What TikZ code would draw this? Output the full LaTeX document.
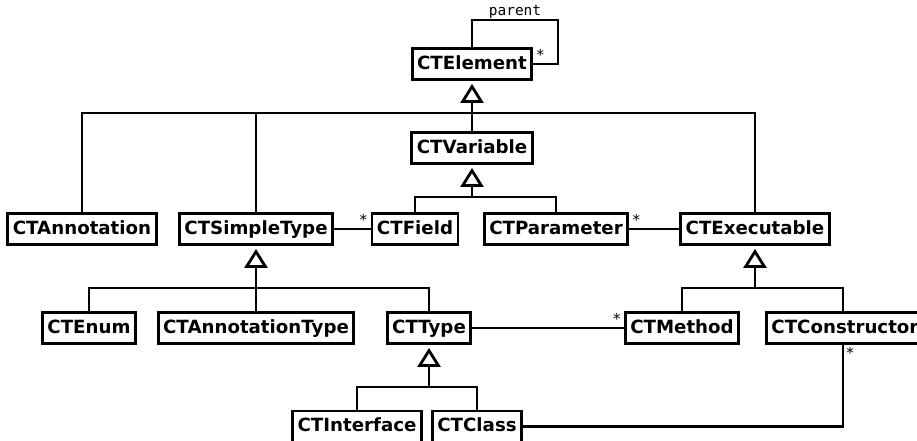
\documentclass[tikz,border=0pt]{standalone}
\usepackage{fontspec}
\setsansfont{DejaVu Sans}
\setmonofont{DejaVu Sans Mono}
\usetikzlibrary{arrows.meta}

\tikzset{
  cls/.style={draw, line width=2.8pt, fill=white, inner xsep=5pt, inner ysep=0pt,
    minimum height=31pt, text height=13.6pt, text depth=3.6pt,
    font=\sffamily\bfseries\fontsize{18.2}{20}\selectfont},
  mult/.style={font=\sffamily\fontsize{15}{15}\selectfont, inner sep=2pt},
  gen/.style={-{Triangle[open, width=23pt, length=19pt]}, shorten >=3pt}
}

\begin{document}
\begin{tikzpicture}[x=1pt, y=-1pt, line width=2.8pt]

    % Frame
    \useasboundingbox (0,0) rectangle (917,440);
    \clip (0,0) rectangle (917,440);

    % Classes
    \node[cls] (element) at (472,64) {CTElement};
    \node[cls] (variable) at (472,148) {CTVariable};

    \node[cls] (annotation) at (82,229) {CTAnnotation};
    \node[cls] (simpletype) at (256,229) {CTSimpleType};
    \node[cls] (field) at (415,229) {CTField};
    \node[cls] (parameter) at (556,229) {CTParameter};
    \node[cls] (executable) at (755,229) {CTExecutable};

    \node[cls] (enum) at (89,328) {CTEnum};
    \node[cls] (annotationtype) at (256,328) {CTAnnotationType};
    \node[cls] (type) at (429,328) {CTType};
    \node[cls] (method) at (682,328) {CTMethod};
    \node[cls, anchor=west] (constructor) at (765,328) {CTConstructor};

    \node[cls] (interface) at (357,426.5) {CTInterface};
    \node[cls] (class) at (477,426.5) {CTClass};

    % Junctions of the inheritance trees
    \coordinate (jelement) at (472,113);
    \coordinate (jvariable) at (472,197);
    \coordinate (jsimpletype) at (256,288);
    \coordinate (jexecutable) at (755,288);
    \coordinate (jtype) at (429,387);

    % Inheritance
    \draw (annotation.north) |- (jelement) -| (executable.north);
    \draw (simpletype.north) |- (jelement);
    \draw (variable) -- (jelement);
    \draw[gen] (jelement) -- (element);

    \draw (field.north) |- (jvariable) -| (parameter.north);
    \draw[gen] (jvariable) -- (variable);

    \draw (enum.north) |- (jsimpletype) -| (type.north);
    \draw (annotationtype) -- (jsimpletype);
    \draw[gen] (jsimpletype) -- (simpletype);

    \draw (method.north) |- (jexecutable) -| (constructor.north -| 843,0);
    \draw[gen] (jexecutable) -- (executable);

    \draw (interface.north) |- (jtype) -| (class.north);
    \draw[gen] (jtype) -- (type);

    % Self association
    \coordinate (looptop) at (472,20);
    \coordinate (loopright) at (558,64);
    \draw (element.north) -- (element.north |- looptop)
        -- node[above, font=\ttfamily\fontsize{14.5}{15}\selectfont, inner sep=0pt] {parent} (looptop -| loopright)
        -- (loopright) -- (element.east) node[mult, above right] {*};

    % Associations
    \draw (simpletype) -- (field) node[mult, pos=1, above left] {*};
    \draw (parameter) -- (executable) node[mult, pos=0, above right] {*};
    \draw (type) -- (method) node[mult, pos=1, above left] {*};
    \coordinate (cstem) at (843,344);
    \draw (cstem) node[mult, below right] {*} |- (class.east);

\end{tikzpicture}
\end{document}
